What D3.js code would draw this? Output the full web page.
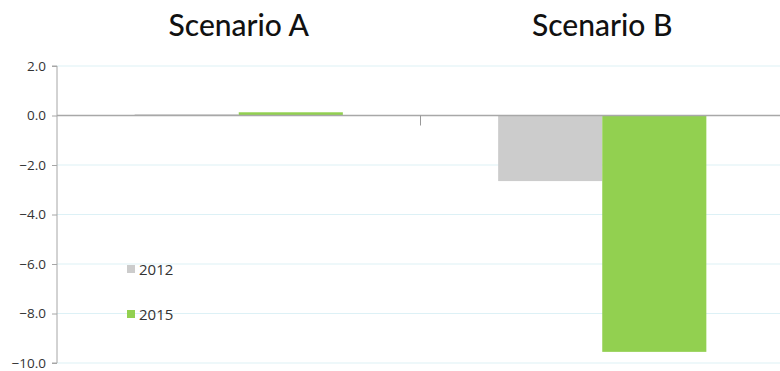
<!DOCTYPE html>
<html><head><meta charset="utf-8">
<script src="https://cdn.jsdelivr.net/npm/d3@7"></script>
<style>body{margin:0;background:#fff}svg{display:block}</style>
</head><body>
<svg id="c" width="780" height="371"></svg>
<script>
const categories = ["Scenario A", "Scenario B"];
const seriesNames = ["2012", "2015"];
const values2012 = [0.05, -2.65];
const values2015 = [0.13, -9.55];
const seriesColors = ["#cccccc", "#92d050"];
const yTicks = [2, 0, -2, -4, -6, -8, -10];

const svg = d3.select("#c");
const m = {left: 57, right: 784, top: 66, bottom: 363};
const y = d3.scaleLinear().domain([-10, 2]).range([m.bottom, m.top]);
const x0 = d3.scaleBand().domain(categories).range([m.left, m.right]).paddingInner(0).paddingOuter(0);
const x1 = d3.scaleBand().domain(seriesNames).range([0, x0.bandwidth()]).paddingInner(0).paddingOuter(0.746);

// gridlines
svg.append("g").selectAll("line").data(yTicks.filter(d => d !== 0)).join("line")
  .attr("x1", m.left).attr("x2", 780).attr("y1", d => y(d)).attr("y2", d => y(d))
  .attr("stroke", "#ddf1f6").attr("stroke-width", 1.2);

// y axis
const yAxis = d3.axisLeft(y).tickValues(yTicks).tickFormat(d3.format(".1f")).tickSize(5).tickPadding(6);
const ga = svg.append("g").attr("transform", `translate(${m.left},0)`).call(yAxis);
ga.select(".domain").attr("stroke", "#a6a6a6").attr("d", `M-5,${m.top}H0V${m.bottom}H-5`);
ga.selectAll(".tick line").attr("stroke", "#a6a6a6");
ga.selectAll(".tick text").attr("fill", "#333").style("font-family", "'Open Sans', sans-serif").style("font-size", "13.5px");

// bars
const data = categories.map((c, i) => ({c, vals: [values2012[i], values2015[i]]}));
const g = svg.append("g");
data.forEach(d => {
  d.vals.forEach((v, j) => {
    g.append("rect")
      .attr("x", x0(d.c) + x1(seriesNames[j]))
      .attr("width", x1.bandwidth())
      .attr("y", y(Math.max(0, v)))
      .attr("height", Math.abs(y(v) - y(0)))
      .attr("fill", seriesColors[j]);
  });
});

// zero line
svg.append("line").attr("x1", m.left).attr("x2", 780).attr("y1", y(0)).attr("y2", y(0))
  .attr("stroke", "#a8a8a8").attr("stroke-width", 1.5);
// category divider tick
svg.append("line").attr("x1", x0("Scenario B")).attr("x2", x0("Scenario B"))
  .attr("y1", y(0)).attr("y2", y(0) + 10).attr("stroke", "#999");

// titles
svg.append("g").selectAll("text").data(categories).join("text")
  .attr("x", d => x0(d) + x0.bandwidth() / 2).attr("y", 36)
  .attr("text-anchor", "middle").attr("fill", "#111")
  .style("font-family", "Lato, sans-serif").style("font-size", "30px").style("font-weight", "500")
  .text(d => d);

// legend
const lg = svg.append("g");
seriesNames.forEach((s, i) => {
  const ly = 265 + i * 45;
  lg.append("rect").attr("x", 127).attr("y", ly).attr("width", 8).attr("height", 8).attr("fill", seriesColors[i]);
  lg.append("text").attr("x", 139).attr("y", ly + 10).attr("fill", "#333")
    .style("font-family", "'Open Sans', sans-serif").style("font-size", "15px").text(s);
});
</script>
</body></html>
